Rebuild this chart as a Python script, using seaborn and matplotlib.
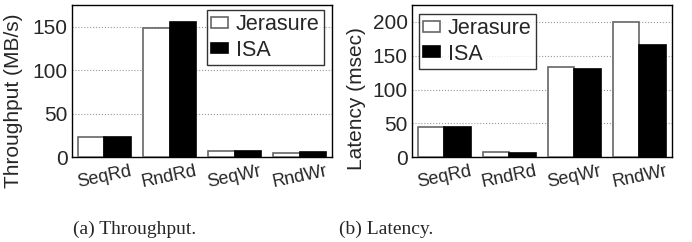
import matplotlib
matplotlib.use("Agg")
import matplotlib.pyplot as plt
import seaborn as sns
import pandas as pd

# workloads and the two erasure-coding libraries
workloads = ["SeqRd", "RndRd", "SeqWr", "RndWr"]
libraries = ["Jerasure", "ISA"]

throughput_jerasure = [23.5, 149, 7.3, 4.2]
throughput_isa = [23.5, 155, 7.5, 5.7]

latency_jerasure = [44, 6.8, 134, 200]
latency_isa = [44.5, 6.4, 131, 166.5]


def to_frame(jer, isa):
    rows = []
    for w, a, b in zip(workloads, jer, isa):
        rows.append({"workload": w, "lib": "Jerasure", "value": a})
        rows.append({"workload": w, "lib": "ISA", "value": b})
    return pd.DataFrame(rows)


sns.set_theme(style="white")
plt.rcParams["font.family"] = ["Liberation Sans", "DejaVu Sans"]

fig = plt.figure(figsize=(6.92, 2.42), dpi=100)
ax_a = fig.add_axes([0.104, 0.351, 0.376, 0.628])
ax_b = fig.add_axes([0.595, 0.351, 0.376, 0.628])

cores = {"Jerasure": "white", "ISA": "black"}
bordas = {"Jerasure": "#666666", "ISA": "black"}


def painel(ax, df, ylim, yticks, ylabel, label_xy, legend_loc, legend_anchor):
    sns.barplot(data=df, x="workload", y="value", hue="lib",
                hue_order=libraries, palette=cores, width=0.82,
                linewidth=1.2, ax=ax, zorder=3)
    for cont, lib in zip(ax.containers, libraries):
        for barra in cont:
            barra.set_edgecolor(bordas[lib])
    ax.set_ylim(*ylim)
    ax.set_xlim(-0.5, 3.5)
    ax.set_yticks(yticks)
    ax.set_yticklabels([str(t) for t in yticks], fontsize=15)
    ax.set_xlabel("")
    ax.set_ylabel(ylabel, fontsize=15)
    ax.yaxis.set_label_coords(*label_xy)
    ax.set_xticks(range(len(workloads)))
    ax.set_xticklabels(workloads, fontsize=13, rotation=12)
    ax.tick_params(axis="y", length=2, width=0.8, pad=1, direction="out")
    ax.tick_params(axis="x", length=0, pad=4)
    ax.yaxis.grid(True, linestyle=":", color="#999999", linewidth=0.8, zorder=0)
    ax.set_axisbelow(True)
    for s in ax.spines.values():
        s.set_color("black")
        s.set_linewidth(1.0)
    leg = ax.legend(loc=legend_loc, bbox_to_anchor=legend_anchor, fontsize=15.5,
                    frameon=True, fancybox=False, edgecolor="black",
                    handlelength=0.8, handleheight=0.4, handletextpad=0.35,
                    borderpad=0.2, labelspacing=0.2, borderaxespad=0.2)
    leg.get_frame().set_linewidth(1.0)
    for h, lib in zip(leg.legend_handles, libraries):
        h.set_edgecolor(bordas[lib])


painel(ax_a, to_frame(throughput_jerasure, throughput_isa), (0, 175),
       [0, 50, 100, 150], "Throughput (MB/s)", (-0.19, 0.37),
       "upper right", (0.985, 0.995))
painel(ax_b, to_frame(latency_jerasure, latency_isa), (0, 225),
       [0, 50, 100, 150, 200], "Latency (msec)", (-0.177, 0.385),
       "upper left", (0.01, 0.97))

fig.text(135 / 692, 1 - 229 / 242, "(a) Throughput.", ha="center", va="center",
         fontsize=14, family="Liberation Serif")
fig.text(386 / 692, 1 - 229 / 242, "(b) Latency.", ha="center", va="center",
         fontsize=14, family="Liberation Serif")

fig.savefig("out.png", dpi=100)
